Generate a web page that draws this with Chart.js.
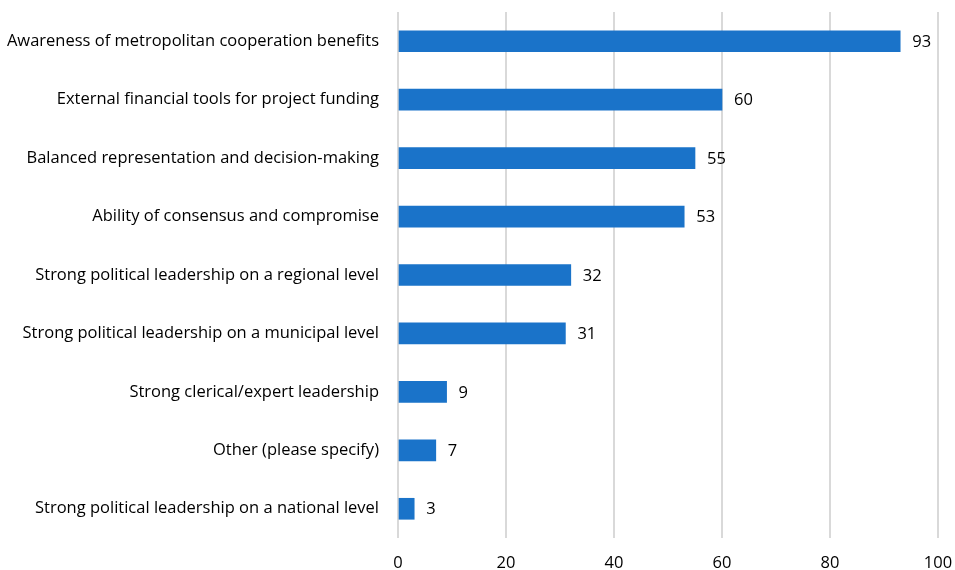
<!DOCTYPE html>
<html>
<head>
<meta charset="utf-8">
<script src="https://cdn.jsdelivr.net/npm/chart.js@4/dist/chart.umd.min.js"></script>
<style>
  html, body { margin: 0; padding: 0; background: #fff; }
  #wrap { width: 955px; height: 570px; position: relative; }
</style>
</head>
<body>
<div id="wrap"><canvas id="chart"></canvas></div>
<script>
const categories = [
  "Awareness of metropolitan cooperation benefits",
  "External financial tools for project funding",
  "Balanced representation and decision-making",
  "Ability of consensus and compromise",
  "Strong political leadership on a regional level",
  "Strong political leadership on a municipal level",
  "Strong clerical/expert leadership",
  "Other (please specify)",
  "Strong political leadership on a national level",
];
const values = [93, 60, 55, 53, 32, 31, 9, 7, 3];
const xTicks = [0, 20, 40, 60, 80, 100];

const FONT = "'Open Sans', sans-serif";
const SIZE = 16.5;

// value labels at the end of each bar
const barLabels = {
  id: "barLabels",
  afterDatasetsDraw(chart) {
    const ctx = chart.ctx;
    const meta = chart.getDatasetMeta(0);
    ctx.save();
    ctx.font = SIZE + "px " + FONT;
    ctx.fillStyle = "#000";
    ctx.textAlign = "left";
    ctx.textBaseline = "middle";
    meta.data.forEach((bar, i) => {
      ctx.fillText(String(values[i]), bar.x + 12, bar.y + 1);
    });
    ctx.restore();
  },
};

const config = {
  type: "bar",
  data: {
    labels: categories,
    datasets: [
      {
        data: values,
        backgroundColor: "#1a73c9",
        barThickness: 21,
      },
    ],
  },
  options: {
    indexAxis: "y",
    responsive: true,
    maintainAspectRatio: false,
    animation: false,
    layout: { padding: { top: 12, right: 17, left: 0, bottom: 0 } },
    plugins: {
      legend: { display: false },
      tooltip: { enabled: false },
    },
    scales: {
      x: {
        min: 0,
        max: 100,
        afterBuildTicks: (s) => {
          s.ticks = xTicks.map((v) => ({ value: v }));
        },
        afterFit: (s) => {
          s.height = 32;
          s.paddingLeft = 0;
          s.paddingRight = 0;
        },
        grid: { color: "#d9d9d9", lineWidth: 2, drawTicks: false },
        border: { display: false },
        ticks: { color: "#000", font: { family: FONT, size: SIZE }, padding: 15 },
      },
      y: {
        afterFit: (s) => {
          s.width = 398;
          s.paddingTop = 0;
          s.paddingBottom = 0;
        },
        grid: { display: false, drawTicks: false },
        border: { display: false },
        ticks: { color: "#000", font: { family: FONT, size: SIZE }, padding: 19 },
      },
    },
  },
  plugins: [barLabels],
};

new Chart(document.getElementById("chart").getContext("2d"), config);
</script>
</body>
</html>
